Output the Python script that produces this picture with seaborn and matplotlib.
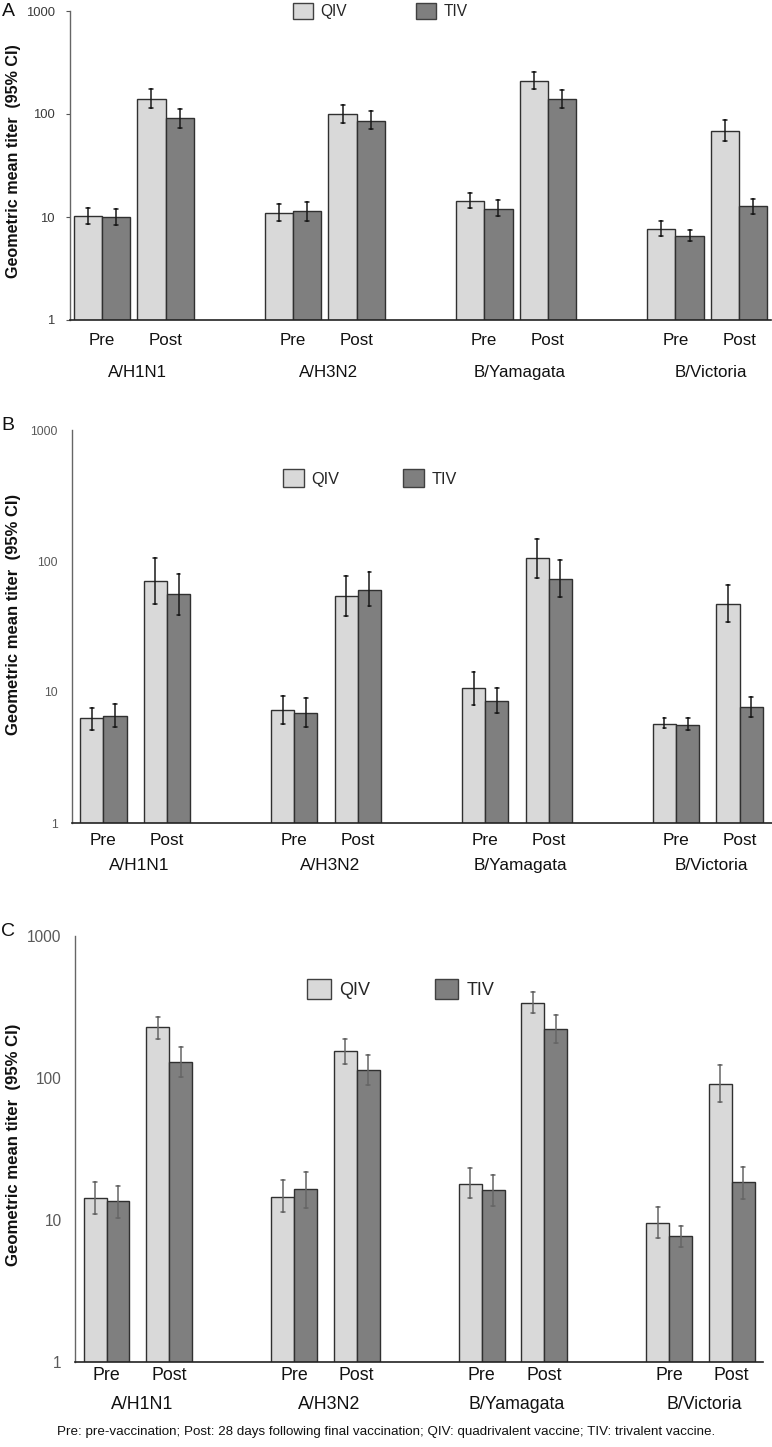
import numpy as np
import pandas as pd
import matplotlib
matplotlib.use("Agg")
import matplotlib.pyplot as plt
import seaborn as sns
from matplotlib.patches import Patch
from matplotlib.ticker import NullLocator

# ── Data (GMT with 95% CI) ───────────────────────────────────────────────────
STRAINS = ["A/H1N1", "A/H3N2", "B/Yamagata", "B/Victoria"]
TIMEPOINTS = ["Pre", "Post"]
VACCINES = ["QIV", "TIV"]

# order of values: H1N1 Pre, H1N1 Post, H3N2 Pre, H3N2 Post, Yam Pre, Yam Post, Vic Pre, Vic Post
a_qiv_gmt = [10.2, 140, 10.9, 100, 14.4, 210, 7.6, 69]
a_qiv_lo  = [8.6, 115, 9.2, 82, 12.1, 175, 6.6, 55]
a_qiv_hi  = [12.2, 176, 13.4, 123, 17.2, 258, 9.2, 87]
a_tiv_gmt = [10.0, 91, 11.5, 86, 12.0, 140, 6.6, 12.7]
a_tiv_lo  = [8.4, 73, 9.2, 71, 10.2, 114, 5.9, 10.7]
a_tiv_hi  = [12.0, 112, 14.1, 106, 14.7, 172, 7.5, 15.1]

b_qiv_gmt = [6.3, 70, 7.3, 54, 10.7, 105, 5.7, 47]
b_qiv_lo  = [5.1, 47, 5.7, 38, 8.0, 74, 5.3, 34]
b_qiv_hi  = [7.6, 105, 9.4, 77, 14.1, 148, 6.3, 66]
b_tiv_gmt = [6.6, 56, 6.9, 60, 8.5, 73, 5.6, 7.7]
b_tiv_lo  = [5.4, 39, 5.4, 45, 6.9, 53, 5.1, 6.5]
b_tiv_hi  = [8.1, 79, 9.0, 82, 10.7, 101, 6.3, 9.2]

c_qiv_gmt = [14.4, 227, 14.6, 154, 18.0, 338, 9.6, 90]
c_qiv_lo  = [11.1, 187, 11.3, 126, 14.4, 285, 7.5, 68]
c_qiv_hi  = [18.4, 268, 19.2, 187, 23.2, 403, 12.4, 123]
c_tiv_gmt = [13.5, 130, 16.5, 114, 16.2, 222, 7.7, 18.4]
c_tiv_lo  = [10.4, 102, 12.2, 89, 12.6, 177, 6.5, 14.1]
c_tiv_hi  = [17.4, 166, 21.9, 145, 20.6, 280, 9.1, 23.7]

YTICKS = [1, 10, 100, 1000]
YTICK_LABELS = ["1", "10", "100", "1000"]
FOOTNOTE = ("Pre: pre-vaccination; Post: 28 days following final vaccination; "
            "QIV: quadrivalent vaccine; TIV: trivalent vaccine.")
YLABEL = "Geometric mean titer  (95% CI)"

PALETTE = {"QIV": "#d9d9d9", "TIV": "#7f7f7f"}

W, H = 772, 1447


def build_frame(qiv_gmt, qiv_lo, qiv_hi, tiv_gmt, tiv_lo, tiv_hi):
    """Long frame with lo / gmt / hi rows per bar, so median + 100% interval
    gives the bar height and the CI whiskers."""
    rows = []
    bars = [f"{s} {t}" for s in STRAINS for t in TIMEPOINTS]
    series = {"QIV": (qiv_lo, qiv_gmt, qiv_hi), "TIV": (tiv_lo, tiv_gmt, tiv_hi)}
    for vac, (lo, gmt, hi) in series.items():
        for i, bar in enumerate(bars):
            for v in (lo[i], gmt[i], hi[i]):
                rows.append({"bar": bar, "vaccine": vac, "titer": v})
    return pd.DataFrame(rows)


order = []
for i, s in enumerate(STRAINS):
    if i:
        order.append(f"gap{i}")
    order += [f"{s} {t}" for t in TIMEPOINTS]
tick_pos = [order.index(f"{s} {t}") for s in STRAINS for t in TIMEPOINTS]
tick_lab = [t for s in STRAINS for t in TIMEPOINTS]

panels = [
    dict(letter="A", df=build_frame(a_qiv_gmt, a_qiv_lo, a_qiv_hi, a_tiv_gmt, a_tiv_lo, a_tiv_hi),
         rect=(70, 11, 771, 320), width=0.89, cap=0.12, errc="#1a1a1a",
         ytick_fs=9.4, ytick_c="#3a3a3a", ytick_len=3, ytick_pad=8,
         xtick_fs=12.2, xtick_pad=9.5, grp_y=-0.145,
         leg=(0.318, 1.0), leg_fs=11.2, leg_cs=4.45, ylab_y=161, ylab_fs=11.6, let_y=12),
    dict(letter="B", df=build_frame(b_qiv_gmt, b_qiv_lo, b_qiv_hi, b_tiv_gmt, b_tiv_lo, b_tiv_hi),
         rect=(71.5, 430, 771.5, 823), width=0.73, cap=0.12, errc="#1a1a1a",
         ytick_fs=8.8, ytick_c="#595959", ytick_len=0, ytick_pad=10,
         xtick_fs=12.4, xtick_pad=7, grp_y=-0.088,
         leg=(0.302, 0.877), leg_fs=11.7, leg_cs=3.9, ylab_y=614, ylab_fs=12.0, let_y=425),
    dict(letter="C", df=build_frame(c_qiv_gmt, c_qiv_lo, c_qiv_hi, c_tiv_gmt, c_tiv_lo, c_tiv_hi),
         rect=(75.4, 936, 763, 1362), width=0.73, cap=0.13, errc="#666666",
         ytick_fs=11.2, ytick_c="#595959", ytick_len=0, ytick_pad=10,
         xtick_fs=12.8, xtick_pad=3.5, grp_y=-0.079,
         leg=(0.337, 0.876), leg_fs=13.0, leg_cs=3.6, ylab_y=1145, ylab_fs=12.1, let_y=931),
]

sns.set_style("white")
plt.rcParams["font.family"] = ["Liberation Sans", "DejaVu Sans"]

fig = plt.figure(figsize=(W / 100, H / 100), dpi=100)

for p in panels:
    x0, y0, x1, y1 = p["rect"]
    ax = fig.add_axes([x0 / W, 1 - y1 / H, (x1 - x0) / W, (y1 - y0) / H])

    sns.barplot(
        data=p["df"], x="bar", y="titer", hue="vaccine",
        order=order, hue_order=VACCINES, palette=PALETTE,
        estimator="median", errorbar=("pi", 100),
        width=p["width"], capsize=p["cap"],
        err_kws={"color": p["errc"], "linewidth": 1.1},
        edgecolor="#303030", linewidth=1.0,
        legend=False, ax=ax,
    )

    ax.set_yscale("log")
    ax.set_ylim(1, 1000)
    ax.set_xlim(-0.5, len(order) - 0.5)
    ax.set_yticks(YTICKS)
    ax.set_yticklabels(YTICK_LABELS)
    ax.yaxis.set_minor_locator(NullLocator())
    ax.tick_params(axis="y", labelsize=p["ytick_fs"], labelcolor=p["ytick_c"],
                   length=p["ytick_len"], width=0.8, pad=p["ytick_pad"],
                   left=p["ytick_len"] > 0, color="#555555")
    ax.set_xticks(tick_pos, tick_lab)
    ax.tick_params(axis="x", labelsize=p["xtick_fs"], length=0, pad=p["xtick_pad"],
                   labelcolor="#111111")
    ax.set_xlabel("")
    ax.set_ylabel("")

    sns.despine(ax=ax)
    ax.spines["left"].set_color("#666666")
    ax.spines["left"].set_linewidth(1.0)
    ax.spines["bottom"].set_color("#222222")
    ax.spines["bottom"].set_linewidth(1.2)

    # strain names under each Pre/Post pair
    for s in STRAINS:
        xc = (order.index(f"{s} Pre") + order.index(f"{s} Post")) / 2 + 0.06
        ax.text(xc, p["grp_y"], s, transform=ax.get_xaxis_transform(),
                ha="center", va="top", fontsize=p["xtick_fs"], color="#111111")

    handles = [Patch(facecolor=PALETTE[v], edgecolor="#404040", linewidth=1.0, label=v)
               for v in VACCINES]
    ax.legend(handles=handles, loc="center left", bbox_to_anchor=p["leg"], ncol=2,
              frameon=False, fontsize=p["leg_fs"], handlelength=1.3, handleheight=1.3,
              handletextpad=0.45, columnspacing=p["leg_cs"], borderpad=0,
              borderaxespad=0)

    fig.text(14 / W, 1 - p["ylab_y"] / H, YLABEL, rotation=90, ha="center", va="center",
             fontsize=p["ylab_fs"], fontweight="bold", color="#111111")
    fig.text(8 / W, 1 - p["let_y"] / H, p["letter"], ha="center", va="center",
             fontsize=14, color="#111111")

fig.text(0.5, 1 - 1432 / H, FOOTNOTE, ha="center", va="center", fontsize=9.6,
         color="#111111")

fig.savefig("out.png", dpi=100)
